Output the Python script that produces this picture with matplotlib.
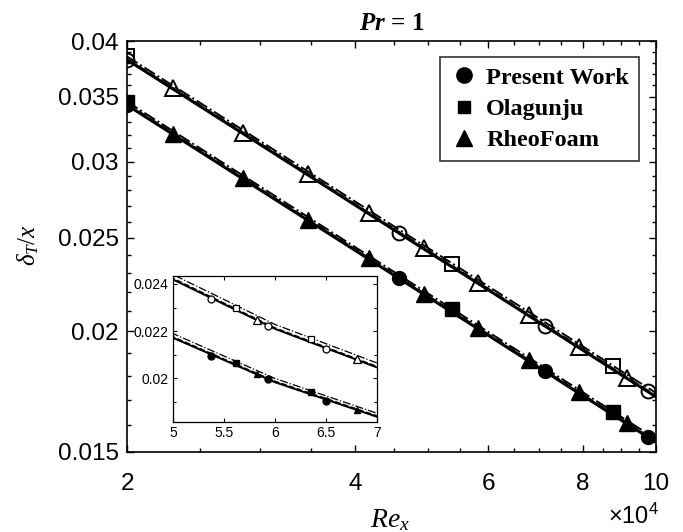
import matplotlib
matplotlib.use('Agg')
import matplotlib.pyplot as plt
from matplotlib.ticker import FixedLocator, FixedFormatter, NullFormatter
from matplotlib.lines import Line2D

plt.rcParams['mathtext.fontset'] = 'custom'
plt.rcParams['mathtext.rm'] = 'Liberation Serif'
plt.rcParams['mathtext.it'] = 'Liberation Serif:italic'
plt.rcParams['mathtext.bf'] = 'Liberation Serif:bold'
plt.rcParams['mathtext.bfit'] = 'Liberation Serif:italic:bold'
plt.rcParams['mathtext.sf'] = 'Liberation Sans'
plt.rcParams['font.family'] = 'Liberation Sans'

# ---------------- data (Re_x in units of 1e4) ----------------
re_line = [2, 3, 4, 5, 6, 7, 8, 9, 10]

# upper group (open markers)
pw_up = [0.03825, 0.03124, 0.02705, 0.02419, 0.02209, 0.02045, 0.01913, 0.01803, 0.01711]
ola_up = [0.03855, 0.03150, 0.02728, 0.02440, 0.02228, 0.02064, 0.01930, 0.01819, 0.01727]
rf_up = [0.03830, 0.03130, 0.02710, 0.02424, 0.02213, 0.02049, 0.01917, 0.01806, 0.01714]
# lower group (filled markers)
pw_lo = [0.03433, 0.02803, 0.02428, 0.02171, 0.01982, 0.01835, 0.01716, 0.01618, 0.01535]
ola_lo = [0.03460, 0.02826, 0.02447, 0.02189, 0.01998, 0.01850, 0.01730, 0.01631, 0.01547]
rf_lo = [0.03440, 0.02809, 0.02433, 0.02175, 0.01986, 0.01839, 0.01719, 0.01621, 0.01538]

# marker samples, main plot
pw_mk_re = [2, 4.57, 7.13, 9.75]
pw_mk_up = [0.03825, 0.02531, 0.02026, 0.01733]
pw_mk_lo = [0.03433, 0.02271, 0.01818, 0.01555]
ola_mk_re = [2, 5.38, 8.77]
ola_mk_up = [0.03855, 0.02350, 0.01841]
ola_mk_lo = [0.03460, 0.02109, 0.01652]
rf_mk_re = [2.30, 2.85, 3.47, 4.17, 4.94, 5.82, 6.79, 7.91, 9.16]
rf_mk_up = [0.03574, 0.03211, 0.02910, 0.02655, 0.02439, 0.02247, 0.02080, 0.01927, 0.01791]
rf_mk_lo = [0.03207, 0.02882, 0.02611, 0.02382, 0.02188, 0.02016, 0.01867, 0.01729, 0.01607]

# marker samples, inset
ins_pw_re = [5.37, 5.93, 6.5]
ins_pw_up = [0.02335, 0.02222, 0.02122]
ins_pw_lo = [0.02095, 0.01994, 0.01904]
ins_ola_re = [5.62, 6.35]
ins_ola_up = [0.02300, 0.02164]
ins_ola_lo = [0.02064, 0.01942]
ins_rf_re = [5.82, 6.8]
ins_rf_up = [0.02247, 0.02079]
ins_rf_lo = [0.02016, 0.01866]

legend_labels = ['Present Work', 'Olagunju', 'RheoFoam']
x_ticks = [2, 4, 6, 8, 10]
y_ticks = [0.015, 0.02, 0.025, 0.03, 0.035, 0.04]
y_tick_labels = ['0.015', '0.02', '0.025', '0.03', '0.035', '0.04']
ins_x_ticks = [5, 5.5, 6, 6.5, 7]
ins_y_ticks = [0.02, 0.022, 0.024]

# ---------------- figure ----------------
fig = plt.figure(figsize=(6.83, 5.32), dpi=100)
ax = fig.add_axes([0.186, 0.1504, 0.7745, 0.7725])

k = 'black'
for ys_pw, ys_ola, ys_rf in [(pw_up, ola_up, rf_up), (pw_lo, ola_lo, rf_lo)]:
    ax.plot(re_line, ys_ola, '-.', color=k, lw=1.4)
    ax.plot(re_line, ys_rf, '--', color=k, lw=1.8)
    ax.plot(re_line, ys_pw, '-', color=k, lw=2.2)

ms = 10
# open markers (upper)
ax.plot(ola_mk_re, ola_mk_up, 's', ms=ms, mfc='none', mec=k, mew=1.4, ls='none')
ax.plot(pw_mk_re, pw_mk_up, 'o', ms=ms, mfc='none', mec=k, mew=1.4, ls='none')
ax.plot(rf_mk_re, rf_mk_up, '^', ms=ms + 1, mfc='none', mec=k, mew=1.4, ls='none')
# filled markers (lower)
ax.plot(ola_mk_re, ola_mk_lo, 's', ms=ms, color=k, ls='none')
ax.plot(pw_mk_re, pw_mk_lo, 'o', ms=ms, color=k, ls='none')
ax.plot(rf_mk_re, rf_mk_lo, '^', ms=ms + 1, color=k, ls='none')

ax.set_xscale('log')
ax.set_yscale('log')
ax.set_xlim(2, 10)
ax.set_ylim(0.015, 0.04)

ax.xaxis.set_major_locator(FixedLocator(x_ticks))
ax.xaxis.set_major_formatter(FixedFormatter([str(v) for v in x_ticks]))
ax.xaxis.set_minor_locator(FixedLocator([v / 2 for v in range(5, 20) if v % 4 != 0]))
ax.xaxis.set_minor_formatter(NullFormatter())
ax.yaxis.set_major_locator(FixedLocator(y_ticks))
ax.yaxis.set_major_formatter(FixedFormatter(y_tick_labels))
ax.yaxis.set_minor_locator(FixedLocator([v / 1000 for v in range(15, 41)]))
ax.yaxis.set_minor_formatter(NullFormatter())

ax.tick_params(which='both', direction='in', top=True, right=True, width=1.0)
ax.tick_params(which='major', length=5, labelsize=17.5)
ax.tick_params(axis='y', which='major', pad=6)
ax.tick_params(axis='x', which='major', pad=15)
ax.tick_params(which='minor', length=3)
for s in ax.spines.values():
    s.set_linewidth(1.2)

ax.set_xlabel(r'$Re_x$', fontsize=20)
ax.set_ylabel(r'$\delta_T/x$', fontsize=18)
ax.xaxis.set_label_coords(0.497, -0.135)
ax.yaxis.set_label_coords(-0.163, 0.504)
ax.set_title(r'$\mathbfit{Pr}\,\mathbf{=\,1}$', fontsize=18, pad=8)
fig.text(0.928, 0.005, r'$\mathsf{\times10^4}$', fontsize=17, ha='center', va='bottom')

handles = [Line2D([], [], marker='o', ls='none', color=k, ms=11),
           Line2D([], [], marker='s', ls='none', color=k, ms=9),
           Line2D([], [], marker='^', ls='none', color=k, ms=11)]
leg = ax.legend(handles, legend_labels, loc='upper right', bbox_to_anchor=(0.967, 0.961),
                borderaxespad=0, frameon=True, fancybox=False, edgecolor=k,
                prop={'family': 'Liberation Serif', 'weight': 'bold', 'size': 17.5},
                handletextpad=0.3, labelspacing=0.38, borderpad=0.4, handlelength=1.2)
leg.get_frame().set_linewidth(1.2)

# ---------------- inset ----------------
ins = fig.add_axes([0.2533, 0.2068, 0.2987, 0.2744])
for ys_pw, ys_ola, ys_rf in [(pw_up, ola_up, rf_up), (pw_lo, ola_lo, rf_lo)]:
    ins.plot(re_line, ys_ola, '-.', color=k, lw=0.9)
    ins.plot(re_line, ys_rf, '--', color=k, lw=1.1)
    ins.plot(re_line, ys_pw, '-', color=k, lw=1.4)
ims = 5
ins.plot(ins_pw_re, ins_pw_up, 'o', ms=ims, mfc='white', mec=k, mew=0.9, ls='none')
ins.plot(ins_ola_re, ins_ola_up, 's', ms=ims, mfc='white', mec=k, mew=0.9, ls='none')
ins.plot(ins_rf_re, ins_rf_up, '^', ms=ims + 1, mfc='white', mec=k, mew=0.9, ls='none')
ins.plot(ins_pw_re, ins_pw_lo, 'o', ms=ims, color=k, ls='none')
ins.plot(ins_ola_re, ins_ola_lo, 's', ms=ims - 1, color=k, ls='none')
ins.plot(ins_rf_re, ins_rf_lo, '^', ms=ims, color=k, ls='none')
ins.set_xlim(5, 7)
ins.set_ylim(0.01813, 0.02434)
ins.xaxis.set_major_locator(FixedLocator(ins_x_ticks))
ins.xaxis.set_major_formatter(FixedFormatter(['5', '5.5', '6', '6.5', '7']))
ins.yaxis.set_major_locator(FixedLocator(ins_y_ticks))
ins.yaxis.set_major_formatter(FixedFormatter(['0.02', '0.022', '0.024']))
ins.yaxis.set_minor_locator(FixedLocator([0.019, 0.021, 0.023]))
ins.yaxis.set_minor_formatter(NullFormatter())
ins.tick_params(which='both', direction='in', top=True, right=True, width=0.8, labelsize=10, pad=3)
ins.tick_params(which='major', length=3)
ins.tick_params(which='minor', length=2)
for s in ins.spines.values():
    s.set_linewidth(0.9)

fig.savefig('out.png', dpi=100)
